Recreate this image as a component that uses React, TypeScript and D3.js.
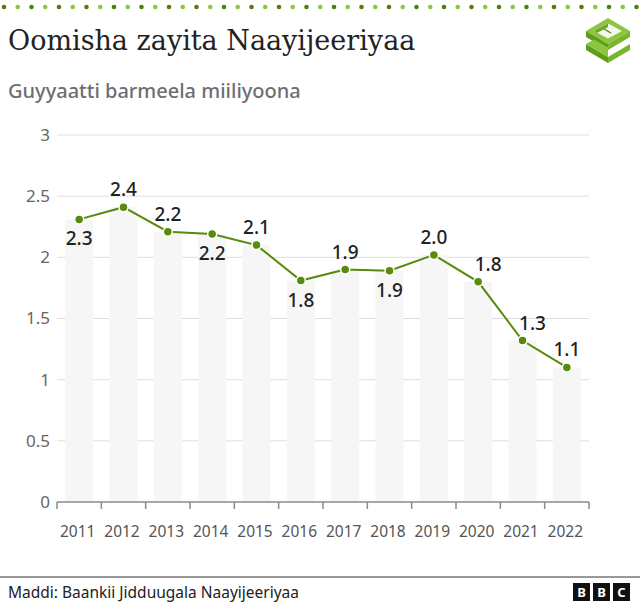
import { useEffect, useRef } from 'react';
import * as d3 from 'd3';

// Daily oil output, million barrels
const years = ['2011', '2012', '2013', '2014', '2015', '2016', '2017', '2018', '2019', '2020', '2021', '2022'];
const output = [2.31, 2.41, 2.21, 2.19, 2.1, 1.81, 1.9, 1.89, 2.02, 1.8, 1.32, 1.1];
const yTicks = [0, 0.5, 1, 1.5, 2, 2.5, 3];

// where each value label sits relative to its point
const labelSide = ['below', 'above', 'above', 'below', 'above', 'below', 'above', 'below', 'above', 'right', 'right', 'above'];

const W = 640;
const H = 607;
const GREEN = '#588a0c';
const SANS = '"Noto Sans", "Open Sans", Roboto, sans-serif';

export default function App() {
  const svgRef = useRef<SVGSVGElement>(null);

  useEffect(() => {
    if (!svgRef.current) return;
    const svg = d3.select(svgRef.current);
    svg.selectAll('*').remove();

    const left = 57;
    const right = 589;
    const top = 135;
    const bottom = 502;

    // Dotted strip along the top
    const dots = d3.range(0, 48);
    svg.append('g')
      .selectAll('circle')
      .data(dots)
      .join('circle')
      .attr('cx', d => 4 + d * 13.75)
      .attr('cy', 7)
      .attr('r', 2.3)
      .attr('fill', d => (d % 2 === 0 ? '#4f7f0b' : '#8cc63f'));

    // Title and subtitle
    svg.append('text')
      .attr('x', 8)
      .attr('y', 50)
      .attr('font-family', '"DejaVu Serif", "Liberation Serif", serif')
      .attr('font-size', 27)
      .attr('fill', '#222')
      .text('Oomisha zayita Naayijeeriyaa');

    svg.append('text')
      .attr('x', 8)
      .attr('y', 98)
      .attr('font-family', SANS)
      .attr('font-size', 20)
      .attr('font-weight', 500)
      .attr('fill', '#6e6e73')
      .text('Guyyaatti barmeela miiliyoona');

    // Logo
    const logo = svg.append('g');
    const poly = (pts: number[][], fill: string) =>
      logo.append('polygon').attr('points', pts.map(p => p.join(',')).join(' ')).attr('fill', fill);
    poly([[586, 31], [608, 18], [630, 31], [608, 44]], '#8cc63f');
    poly([[594, 31], [608, 23.5], [622, 31], [608, 38.5]], '#f4f8ee');
    poly([[586, 31], [608, 44], [608, 50], [586, 37]], '#5f9b1c');
    poly([[608, 44], [630, 31], [630, 37], [608, 50]], '#78b52e');
    poly([[594, 31], [608, 23.5], [608, 27], [597, 33]], '#6aa623');
    poly([[586, 44], [608, 57], [608, 63], [586, 50]], '#5f9b1c');
    poly([[608, 57], [630, 44], [630, 50], [608, 63]], '#78b52e');
    poly([[586, 44], [594, 39.5], [608, 47.5], [608, 57]], '#8cc63f');
    logo.append('line')
      .attr('x1', 604).attr('y1', 29).attr('x2', 611).attr('y2', 33)
      .attr('stroke', '#4f7f0b').attr('stroke-width', 1.2);

    const x = d3.scaleBand<string>()
      .domain(years)
      .range([left, right])
      .paddingInner(0.37)
      .paddingOuter(0.185);

    const y = d3.scaleLinear().domain([0, 3]).range([bottom, top]);

    const cx = (i: number) => (x(years[i]) ?? 0) + x.bandwidth() / 2;

    // Gridlines
    svg.append('g')
      .selectAll('line')
      .data(yTicks.filter(t => t > 0))
      .join('line')
      .attr('x1', left)
      .attr('x2', right)
      .attr('y1', d => y(d))
      .attr('y2', d => y(d))
      .attr('stroke', '#dedede')
      .attr('stroke-width', 1);

    // Y tick labels
    svg.append('g')
      .selectAll('text')
      .data(yTicks)
      .join('text')
      .attr('x', 50)
      .attr('y', d => y(d))
      .attr('dy', '0.35em')
      .attr('text-anchor', 'end')
      .attr('font-family', SANS)
      .attr('font-size', 17)
      .attr('fill', '#666')
      .text(d => String(d));

    // Background bars
    svg.append('g')
      .selectAll('rect')
      .data(output)
      .join('rect')
      .attr('x', (_, i) => x(years[i]) ?? 0)
      .attr('y', d => y(d))
      .attr('width', x.bandwidth())
      .attr('height', d => bottom - y(d))
      .attr('fill', '#f6f6f6');

    // X axis: baseline, ticks between years, year labels
    const step = x.step();
    const bounds = d3.range(years.length + 1).map(i => left + i * step);
    const axis = svg.append('g');
    axis.append('line')
      .attr('x1', left).attr('x2', right)
      .attr('y1', bottom).attr('y2', bottom)
      .attr('stroke', '#8a8a8a').attr('stroke-width', 1.5);
    axis.selectAll('line.tick')
      .data(bounds)
      .join('line')
      .attr('class', 'tick')
      .attr('x1', d => d).attr('x2', d => d)
      .attr('y1', bottom).attr('y2', bottom + 7)
      .attr('stroke', '#8a8a8a').attr('stroke-width', 1.5);
    axis.selectAll('text')
      .data(years)
      .join('text')
      .attr('x', d => (x(d) ?? 0) + x.bandwidth() / 2 - 1.5)
      .attr('y', 537)
      .attr('text-anchor', 'middle')
      .attr('font-family', SANS)
      .attr('font-size', 15.5)
      .attr('fill', '#555')
      .text(d => d);

    // Line and points
    const line = d3.line<number>()
      .x((_, i) => cx(i))
      .y(d => y(d));

    svg.append('path')
      .datum(output)
      .attr('d', line)
      .attr('fill', 'none')
      .attr('stroke', GREEN)
      .attr('stroke-width', 2);

    svg.append('g')
      .selectAll('circle')
      .data(output)
      .join('circle')
      .attr('cx', (_, i) => cx(i))
      .attr('cy', d => y(d))
      .attr('r', 4.5)
      .attr('fill', GREEN)
      .attr('stroke', '#fff')
      .attr('stroke-width', 1.5);

    // Value labels
    const fmt = d3.format('.1f');
    svg.append('g')
      .selectAll('text')
      .data(output)
      .join('text')
      .attr('x', (_, i) => cx(i) + (labelSide[i] === 'right' ? 10 : 0))
      .attr('y', (d, i) => y(d) + (labelSide[i] === 'below' ? 26 : -11))
      .attr('text-anchor', 'middle')
      .attr('font-family', SANS)
      .attr('font-size', 19)
      .attr('font-weight', 500)
      .attr('fill', '#222')
      .text(d => fmt(d));

    // Footer
    svg.append('line')
      .attr('x1', 0).attr('x2', W)
      .attr('y1', 577).attr('y2', 577)
      .attr('stroke', '#333').attr('stroke-width', 1);

    svg.append('text')
      .attr('x', 8)
      .attr('y', 598)
      .attr('font-family', SANS)
      .attr('font-size', 15.5)
      .attr('fill', '#222')
      .text('Maddi: Baankii Jidduugala Naayijeeriyaa');

    const bbc = svg.append('g').attr('transform', 'translate(573,583)');
    ['B', 'B', 'C'].forEach((ch, i) => {
      bbc.append('rect')
        .attr('x', i * 20).attr('y', 0)
        .attr('width', 17).attr('height', 18)
        .attr('fill', '#111');
      bbc.append('text')
        .attr('x', i * 20 + 8.5).attr('y', 14)
        .attr('text-anchor', 'middle')
        .attr('font-family', SANS)
        .attr('font-weight', 'bold')
        .attr('font-size', 13)
        .attr('fill', '#fff')
        .text(ch);
    });
  }, []);

  return (
    <svg
      ref={svgRef}
      width={W}
      height={H}
      style={{ position: 'absolute', left: 0, top: 0, background: '#fff' }}
    />
  );
}
